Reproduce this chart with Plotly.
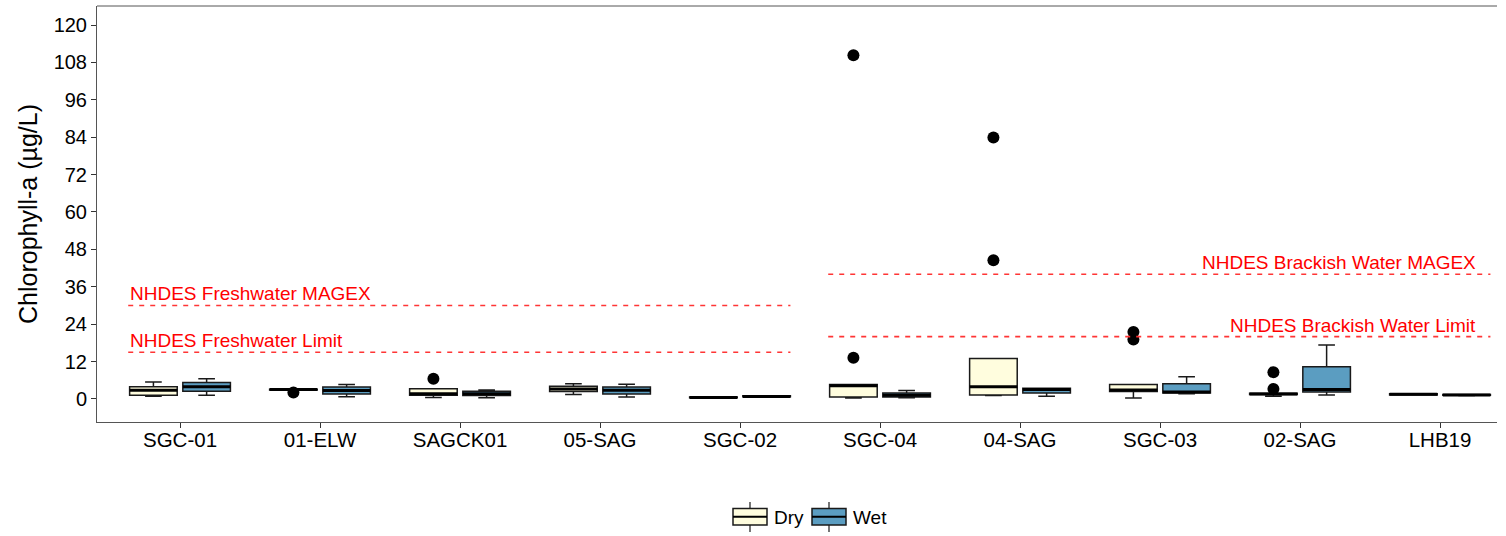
import plotly.graph_objects as go

# Monitoring stations along the x axis
stations = ["SGC-01", "01-ELW", "SAGCK01", "05-SAG", "SGC-02",
            "SGC-04", "04-SAG", "SGC-03", "02-SAG", "LHB19"]

# Dry-weather box statistics (µg/L)
dry_lower = [0.9, 2.9, 0.5, 1.4, 0.4, 0.3, 1.1, 0.3, 0.9, 1.3]
dry_q1 = [1.2, 2.9, 1.2, 2.4, 0.4, 0.6, 1.3, 2.4, 1.4, 1.3]
dry_median = [2.8, 3.0, 1.7, 3.2, 0.5, 4.2, 3.9, 2.9, 1.6, 1.5]
dry_q3 = [3.9, 3.1, 3.3, 4.1, 0.6, 4.6, 13.0, 4.6, 1.8, 1.7]
dry_upper = [5.4, 3.1, 3.3, 4.9, 0.6, 4.6, 13.0, 4.6, 1.8, 1.7]
dry_outliers = {
    "01-ELW": [2.1],
    "SAGCK01": [6.5],
    "SGC-04": [13.2, 110.3],
    "04-SAG": [44.5, 83.9],
    "SGC-03": [19.1, 21.5],
    "02-SAG": [3.2, 8.6],
}

# Wet-weather box statistics (µg/L)
wet_lower = [1.2, 0.7, 0.4, 0.6, 0.7, 0.4, 0.9, 1.7, 1.3, 1.1]
wet_q1 = [2.5, 1.6, 1.1, 1.6, 0.7, 0.6, 1.9, 1.9, 2.2, 1.2]
wet_median = [3.9, 2.7, 1.7, 2.8, 0.8, 1.2, 3.0, 2.2, 3.0, 1.3]
wet_q3 = [5.3, 3.8, 2.5, 3.8, 1.0, 1.9, 3.4, 4.9, 10.3, 1.4]
wet_upper = [6.5, 4.6, 2.9, 4.7, 1.0, 2.7, 3.4, 7.1, 17.3, 1.4]
wet_outliers = {}

# Water-quality criteria: (label, value, first station, last station)
criteria = [
    ("NHDES Freshwater Limit", 15, 0, 4),
    ("NHDES Freshwater MAGEX", 30, 0, 4),
    ("NHDES Brackish Water Limit", 20, 5, 9),
    ("NHDES Brackish Water MAGEX", 40, 5, 9),
]

y_ticks = list(range(0, 121, 12))

DRY_FILL = "#FFFDDE"
WET_FILL = "#5B9DC1"
OFFSET = 0.19
BOX_W = 0.34
FONT = "Liberation Sans, Arial, sans-serif"

# plot-area geometry (pixels) used for the hand-drawn legend keys
W, H = 1506, 536
ML, MR, MT, MB = 97, 9, 6, 114
PW, PH = W - ML - MR, H - MT - MB


def px(x):
    return (x - ML) / PW


def py(y):
    return (H - MB - y) / PH


fig = go.Figure()

groups = [
    ("Dry", -OFFSET, DRY_FILL, dry_lower, dry_q1, dry_median, dry_q3, dry_upper, dry_outliers),
    ("Wet", OFFSET, WET_FILL, wet_lower, wet_q1, wet_median, wet_q3, wet_upper, wet_outliers),
]

for name, off, fill, lo, q1, med, q3, hi, outl in groups:
    pos = [i + off for i in range(len(stations))]
    fig.add_trace(go.Box(
        name=name, x=pos, lowerfence=lo, q1=q1, median=med, q3=q3, upperfence=hi,
        width=BOX_W, whiskerwidth=0.35, fillcolor=fill,
        line=dict(color="#1a1a1a", width=1.5), boxpoints=False,
        showlegend=False, hoverinfo="skip",
    ))
    # thicker median bar
    mx, my = [], []
    for p, m in zip(pos, med):
        mx += [p - BOX_W / 2, p + BOX_W / 2, None]
        my += [m, m, None]
    fig.add_trace(go.Scatter(x=mx, y=my, mode="lines", line=dict(color="black", width=3),
                             showlegend=False, hoverinfo="skip"))
    # outlying observations
    ox, oy = [], []
    for st, vals in outl.items():
        i = stations.index(st)
        for v in vals:
            ox.append(i + off)
            oy.append(v)
    if ox:
        fig.add_trace(go.Scatter(x=ox, y=oy, mode="markers",
                                 marker=dict(color="black", size=12),
                                 showlegend=False, hoverinfo="skip"))

# Criteria reference lines with labels
for label, val, i0, i1 in criteria:
    x0, x1 = i0 - 0.37, i1 + 0.36
    fig.add_trace(go.Scatter(x=[x0, x1], y=[val, val], mode="lines",
                             line=dict(color="#FF3535", width=1.6, dash="5px,6px"),
                             showlegend=False, hoverinfo="skip"))
    if i0 == 0:
        fig.add_annotation(x=x0 - 0.005, y=val, text=label, showarrow=False,
                           xanchor="left", yanchor="bottom", yshift=-1,
                           font=dict(color="#FF0000", size=19, family=FONT))
    else:
        fig.add_annotation(x=x1 - 0.09, y=val, text=label, showarrow=False,
                           xanchor="right", yanchor="bottom", yshift=-1,
                           font=dict(color="#FF0000", size=19, family=FONT))

# top border of the panel
fig.add_shape(type="line", xref="paper", yref="paper", x0=0, x1=1, y0=1, y1=1,
              line=dict(color="#555555", width=1))

# legend keys drawn as miniature boxplots
for name, fill, left in [("Dry", DRY_FILL, 733), ("Wet", WET_FILL, 812)]:
    right = left + 34
    cx = (left + right) / 2
    fig.add_shape(type="line", xref="paper", yref="paper",
                  x0=px(cx), x1=px(cx), y0=py(502), y1=py(532),
                  line=dict(color="#1a1a1a", width=1.2))
    fig.add_shape(type="rect", xref="paper", yref="paper",
                  x0=px(left), x1=px(right), y0=py(508.5), y1=py(525),
                  fillcolor=fill, line=dict(color="#1a1a1a", width=1.5))
    fig.add_shape(type="line", xref="paper", yref="paper",
                  x0=px(left), x1=px(right), y0=py(516.7), y1=py(516.7),
                  line=dict(color="black", width=2))
    fig.add_annotation(xref="paper", yref="paper", x=px(right + 5), y=py(517),
                       text=name, showarrow=False, xanchor="left", yanchor="middle",
                       font=dict(size=19, family=FONT, color="black"))

fig.update_layout(
    width=W, height=H,
    margin=dict(l=ML, r=MR, t=MT, b=MB),
    plot_bgcolor="white", paper_bgcolor="white",
    font=dict(family=FONT, size=17, color="black"),
    showlegend=False,
    xaxis=dict(
        range=[-0.593, 9.407], tickmode="array",
        tickvals=list(range(len(stations))), ticktext=stations,
        showgrid=False, zeroline=False, showline=True, linecolor="#555555", linewidth=1,
        ticks="outside", ticklen=5, tickcolor="#333333",
        tickfont=dict(size=20.5), ticklabelstandoff=-6,
    ),
    yaxis=dict(
        range=[-7.4, 126.1], tickvals=y_ticks,
        showgrid=False, zeroline=False, showline=True, linecolor="#555555", linewidth=1,
        ticks="outside", ticklen=5, tickcolor="#333333",
        tickfont=dict(size=20),
        title=dict(text="Chlorophyll-a (µg/L)", font=dict(size=25), standoff=8),
    ),
)

fig.write_html("out.html")
